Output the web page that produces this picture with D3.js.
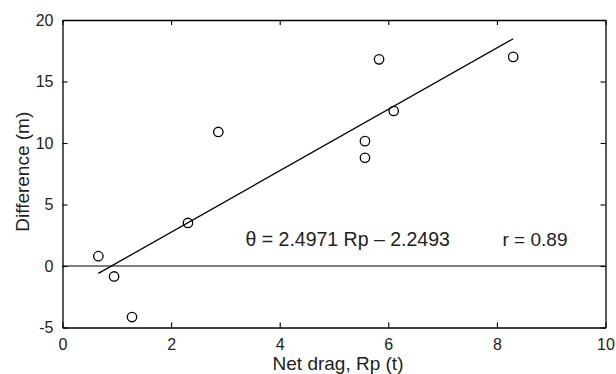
<!DOCTYPE html>
<html>
<head>
<meta charset="utf-8">
<script src="https://cdn.jsdelivr.net/npm/d3@7"></script>
<style>
  body { margin: 0; background: #fff; }
  svg { display: block; }
  text { font-family: "Liberation Sans", Arial, sans-serif; fill: #222; }
</style>
</head>
<body>
<svg width="616" height="374"></svg>
<script>
// net drag Rp (t) vs difference (m)
var netDrag = [0.66, 0.95, 1.28, 2.31, 2.87, 5.57, 5.57, 5.83, 6.10, 8.30];
var difference = [0.8, -0.85, -4.15, 3.5, 10.9, 8.8, 10.15, 16.8, 12.6, 17.0];
var xTicks = [0, 2, 4, 6, 8, 10];
var yTicks = [-5, 0, 5, 10, 15, 20];
var slope = 2.4971, intercept = -2.2493;
var fitLabel = "\u03b8 = 2.4971 Rp \u2013 2.2493";
var rLabel = "r = 0.89";

var svg = d3.select("svg"),
  margin = { top: 20, right: 10.5, bottom: 46.5, left: 62.5 },
  width = +svg.attr("width") - margin.left - margin.right,
  height = +svg.attr("height") - margin.top - margin.bottom,
  g = svg.append("g").attr("transform", "translate(" + margin.left + "," + margin.top + ")");

var x = d3.scaleLinear().domain([0, 10]).range([0, width]);
var y = d3.scaleLinear().domain([-5, 20]).range([height, 0]);

var tick = 5;
var plain = function (d) { return String(d); };

// bottom axis, ticks pointing in
var xb = g.append("g")
  .attr("transform", "translate(0," + height + ")")
  .call(d3.axisBottom(x).tickValues(xTicks).tickFormat(plain).tickSizeInner(-tick).tickSizeOuter(0).tickPadding(11));
xb.selectAll("text").attr("font-size", 16);

// top axis, no labels
g.append("g")
  .call(d3.axisTop(x).tickValues(xTicks).tickSizeInner(-tick).tickSizeOuter(0).tickFormat(""));

// left axis
var yl = g.append("g")
  .call(d3.axisLeft(y).tickValues(yTicks).tickFormat(plain).tickSizeInner(-tick).tickSizeOuter(0).tickPadding(9));
yl.selectAll("text").attr("font-size", 16);

// right axis, no labels
g.append("g")
  .attr("transform", "translate(" + width + ",0)")
  .call(d3.axisRight(y).tickValues(yTicks).tickSizeInner(-tick).tickSizeOuter(0).tickFormat(""));

g.selectAll(".domain").attr("stroke", "#000").attr("stroke-width", 1.3);
g.selectAll(".tick line").attr("stroke", "#000").attr("stroke-width", 1.1);
g.selectAll(".tick text").attr("fill", "#222").style("font-family", "'Liberation Sans', Arial, sans-serif");

// zero line
g.append("line")
  .attr("x1", 0).attr("x2", width)
  .attr("y1", y(0)).attr("y2", y(0))
  .attr("stroke", "#000").attr("stroke-width", 1.2);

// regression line over data range
var xmin = d3.min(netDrag), xmax = d3.max(netDrag);
g.append("line")
  .attr("x1", x(xmin)).attr("y1", y(slope * xmin + intercept))
  .attr("x2", x(xmax)).attr("y2", y(slope * xmax + intercept))
  .attr("stroke", "#000").attr("stroke-width", 1.3);

// points
g.selectAll("circle")
  .data(netDrag)
  .enter().append("circle")
  .attr("cx", function (d) { return x(d); })
  .attr("cy", function (d, i) { return y(difference[i]); })
  .attr("r", 4.7)
  .attr("fill", "none")
  .attr("stroke", "#000")
  .attr("stroke-width", 1.3);

// annotation
g.append("text")
  .attr("x", x(3.37))
  .attr("y", y(1.6))
  .attr("font-size", 19.5)
  .text(fitLabel);

g.append("text")
  .attr("x", x(9.3))
  .attr("y", y(1.6))
  .attr("text-anchor", "end")
  .attr("font-size", 19)
  .text(rLabel);

// axis titles
svg.append("text")
  .attr("x", margin.left + width / 2 + 4)
  .attr("y", 370)
  .attr("text-anchor", "middle")
  .attr("font-size", 19)
  .text("Net drag, Rp (t)");

svg.append("text")
  .attr("transform", "translate(29," + (margin.top + height / 2 - 2) + ") rotate(-90)")
  .attr("text-anchor", "middle")
  .attr("font-size", 19)
  .text("Difference (m)");
</script>
</body>
</html>
